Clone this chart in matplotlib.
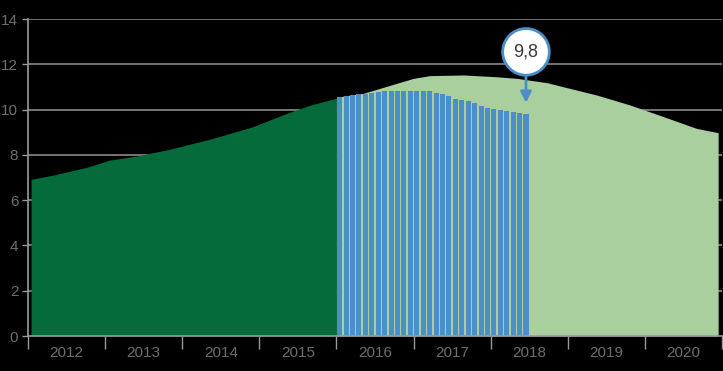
import numpy as np
import matplotlib.pyplot as plt

# historic series (dark green area)
hist_x = [2012.04, 2012.33, 2012.76, 2013.06, 2013.41, 2013.84, 2014.4,
          2014.92, 2015.36, 2015.66, 2016.0]
hist_y = [6.92, 7.11, 7.45, 7.77, 7.95, 8.25, 8.73,
          9.25, 9.84, 10.2, 10.5]

# forecast series (light green area)
fc_x = [2016.0, 2016.35, 2016.78, 2017.0, 2017.21, 2017.65, 2018.08, 2018.34,
        2018.73, 2018.94, 2019.38, 2019.81, 2020.24, 2020.67, 2020.95]
fc_y = [10.55, 10.72, 11.16, 11.38, 11.5, 11.53, 11.45, 11.38,
        11.19, 11.01, 10.64, 10.2, 9.69, 9.17, 8.98]

# monthly bars, Jan 2016 - Jun 2018
monthly = [10.56, 10.59, 10.64, 10.67, 10.70, 10.73, 10.77, 10.80, 10.81, 10.82,
           10.83, 10.83, 10.83, 10.82, 10.81, 10.74, 10.67, 10.59, 10.49, 10.44,
           10.37, 10.27, 10.15, 10.06, 10.03, 9.97, 9.93, 9.88, 9.85, 9.81]

years = list(range(2012, 2021))
callout = '9,8'

DARK = '#066b3a'
LIGHT = '#a9cf9e'
BLUE = '#4a8fc8'
GRID = '#8a8a8a'
TXT = '#6e6e6e'

fig = plt.figure(figsize=(7.23, 3.71), dpi=100, facecolor='black')
ax = fig.add_axes([0.0387, 0.0943, 0.9599, 0.8544], facecolor='black')

ax.fill_between(hist_x, hist_y, 0, color=DARK, lw=0, zorder=2)
ax.fill_between(fc_x, fc_y, 0, color=LIGHT, lw=0, zorder=2)

bx = [2016 + (i + 0.5) / 12 for i in range(len(monthly))]
ax.bar(bx, monthly, width=0.78 / 12, color=BLUE, lw=0, zorder=3)

ax.set_xlim(2012, 2021)
ax.set_ylim(0, 14)
ax.set_yticks(range(0, 15, 2))
for v in range(2, 15, 2):
    ax.axhline(v, color=GRID, lw=1.2, zorder=1)

ax.set_xticks(range(2012, 2022))
ax.set_xticklabels([])
ax.set_xticks([y + 0.5 for y in years], minor=True)
ax.set_xticklabels([str(y) for y in years], minor=True)

ax.tick_params(axis='x', which='major', length=9, width=1, color='#9a9a9a',
               direction='out')
ax.tick_params(axis='x', which='minor', length=0, pad=7, labelsize=11,
               labelcolor=TXT)
ax.tick_params(axis='y', length=4, width=1, color='#9a9a9a', pad=3,
               labelsize=11, labelcolor=TXT)
for lab in ax.get_xticklabels(minor=True) + ax.get_yticklabels():
    lab.set_family('Liberation Sans')

for s in ['top', 'right']:
    ax.spines[s].set_visible(False)
for s in ['left', 'bottom']:
    ax.spines[s].set_color('#9a9a9a')
    ax.spines[s].set_linewidth(1.2)
ax.spines['bottom'].set_zorder(4)

cx = bx[-1]
ax.annotate('', xy=(cx, 10.3), xytext=(cx, 11.6),
            arrowprops=dict(arrowstyle='-|>', color=BLUE, lw=2,
                            mutation_scale=16, shrinkA=0, shrinkB=0),
            zorder=5)
ax.text(cx, 12.55, callout, ha='center', va='center', fontsize=13,
        color='#3a3a3a', family='Liberation Sans', zorder=6,
        bbox=dict(boxstyle='circle,pad=0.6', fc='white', ec=BLUE, lw=2))

fig.savefig('out.png', dpi=100, facecolor='black')
